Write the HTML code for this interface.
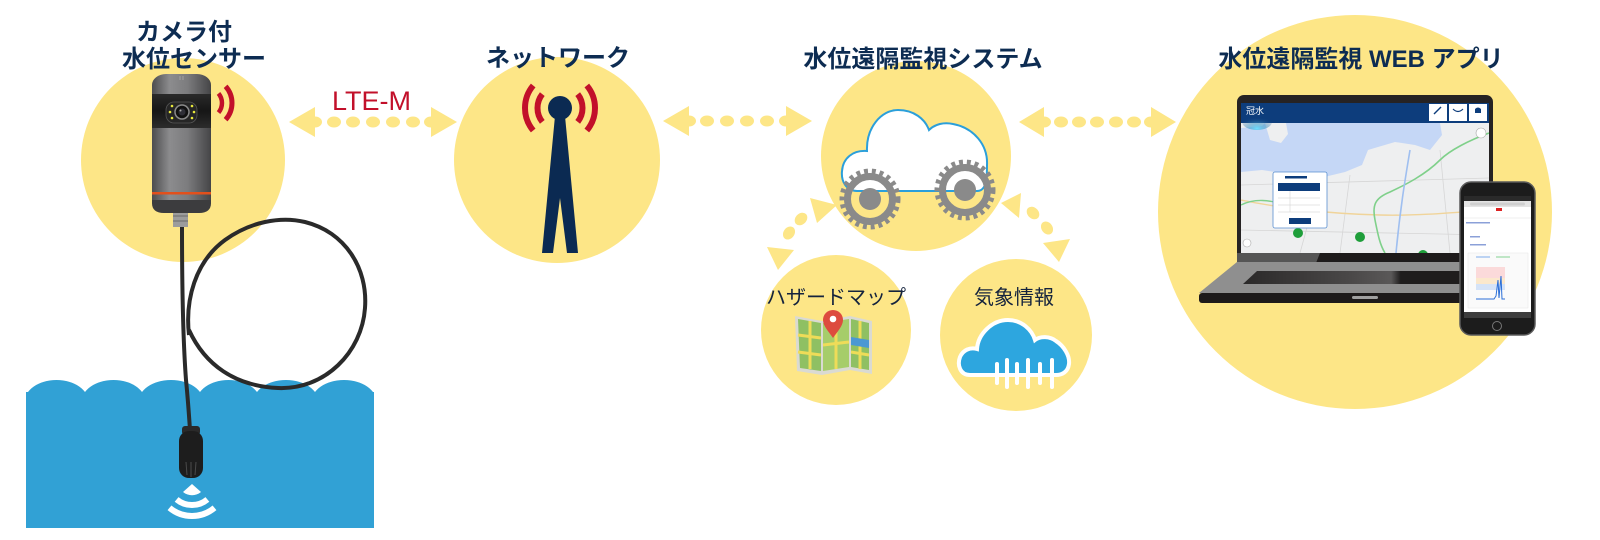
<!DOCTYPE html>
<html><head><meta charset="utf-8">
<style>
html,body{margin:0;padding:0;background:#fff;width:1600px;height:540px;overflow:hidden;}
svg{display:block;}
.t{font-family:"Liberation Sans","Noto Sans CJK JP",sans-serif;}
</style></head><body>
<svg width="1600" height="540" viewBox="0 0 1600 540" xmlns="http://www.w3.org/2000/svg">
<defs>
 <linearGradient id="body" x1="0" x2="1" y1="0" y2="0">
  <stop offset="0" stop-color="#4c4c4e"/><stop offset="0.3" stop-color="#8c8c8e"/><stop offset="0.6" stop-color="#7c7c7e"/><stop offset="1" stop-color="#454547"/>
 </linearGradient>
 <linearGradient id="band" x1="0" x2="0" y1="0" y2="1">
  <stop offset="0" stop-color="#2a2a2a"/><stop offset="0.5" stop-color="#161616"/><stop offset="1" stop-color="#2c2c2c"/>
 </linearGradient>
 <linearGradient id="kb" x1="0" x2="1" y1="0" y2="0">
  <stop offset="0" stop-color="#2b2929"/><stop offset="0.45" stop-color="#4a4848"/><stop offset="0.62" stop-color="#5a5858"/><stop offset="0.66" stop-color="#1f1d1d"/><stop offset="1" stop-color="#1f1d1d"/>
 </linearGradient>
 <radialGradient id="logo" cx="0.5" cy="0.9" r="0.7">
  <stop offset="0" stop-color="#6fe0ff"/><stop offset="1" stop-color="#0d3d7c" stop-opacity="0"/>
 </radialGradient>
 <clipPath id="scr"><rect x="1241" y="103" width="248" height="150"/></clipPath>
</defs>

<!-- yellow circles -->
<g fill="#fde687">
 <circle cx="183" cy="160" r="102"/>
 <circle cx="557" cy="160" r="103"/>
 <circle cx="916" cy="156" r="95"/>
 <circle cx="836" cy="330" r="75"/>
 <circle cx="1016" cy="335" r="76"/>
 <circle cx="1355" cy="212" r="197"/>
</g>

<!-- straight dotted arrows -->
<g fill="#fde687">
 <polygon points="289,122 315,107 315,137"/>
 <polygon points="457,122 431,107 431,137"/>
 <ellipse cx="315" cy="122" rx="7" ry="5.5"/><ellipse cx="334" cy="122" rx="7" ry="5.5"/><ellipse cx="353" cy="122" rx="7" ry="5.5"/><ellipse cx="373" cy="122" rx="7" ry="5.5"/><ellipse cx="393" cy="122" rx="7" ry="5.5"/><ellipse cx="413" cy="122" rx="7" ry="5.5"/><ellipse cx="431" cy="122" rx="7" ry="5.5"/>

 <polygon points="663,121 689,106 689,136"/>
 <polygon points="812,121 786,106 786,136"/>
 <ellipse cx="689" cy="121" rx="7" ry="5.5"/><ellipse cx="707" cy="121" rx="7" ry="5.5"/><ellipse cx="727" cy="121" rx="7" ry="5.5"/><ellipse cx="747" cy="121" rx="7" ry="5.5"/><ellipse cx="767" cy="121" rx="7" ry="5.5"/><ellipse cx="786" cy="121" rx="7" ry="5.5"/>

 <polygon points="1019,122 1044,107 1044,137"/>
 <polygon points="1176,122 1151,107 1151,137"/>
 <ellipse cx="1044" cy="122" rx="7" ry="5.5"/><ellipse cx="1061" cy="122" rx="7" ry="5.5"/><ellipse cx="1079" cy="122" rx="7" ry="5.5"/><ellipse cx="1097" cy="122" rx="7" ry="5.5"/><ellipse cx="1116" cy="122" rx="7" ry="5.5"/><ellipse cx="1134" cy="122" rx="7" ry="5.5"/><ellipse cx="1151" cy="122" rx="7" ry="5.5"/>

 <!-- curved arrows -->
 <polygon points="810,198 837,205 817,223"/>
 <polygon points="767,247 794,250 778,270"/>
 <ellipse cx="801" cy="219" rx="7" ry="5.5" transform="rotate(-45 801 219)"/>
 <ellipse cx="789" cy="233" rx="7" ry="5.5" transform="rotate(-55 789 233)"/>
 <polygon points="1001,203 1021,193 1019,218"/>
 <polygon points="1043,243 1070,239 1059,262"/>
 <ellipse cx="1033" cy="213" rx="7" ry="5.5" transform="rotate(45 1033 213)"/>
 <ellipse cx="1047" cy="228" rx="7" ry="5.5" transform="rotate(55 1047 228)"/>
</g>

<!-- titles -->
<g class="t" fill="#0d2c52" font-weight="bold" font-size="24">
 <text x="136" y="40">カメラ付</text>
 <text x="122" y="67">水位センサー</text>
 <text x="558" y="66" text-anchor="middle">ネットワーク</text>
 <text x="923" y="67" text-anchor="middle">水位遠隔監視システム</text>
 <text x="1361" y="67" text-anchor="middle">水位遠隔監視 WEB アプリ</text>
</g>
<text class="t" x="332" y="110" fill="#c2102a" font-size="27">LTE-M</text>
<g class="t" fill="#14233d" font-size="20">
 <text x="836" y="304" text-anchor="middle">ハザードマップ</text>
 <text x="1014" y="304" text-anchor="middle">気象情報</text>
</g>

<!-- water -->
<path d="M26,528 L26,392 L28,392 C40,376 73,376 85,392 C97,376 130,376 142,392 C154,376 188,376 200,392 C212,376 245,376 257,392 C269,376 303,376 315,392 C327,376 361,376 373,392 L374,392 L374,528 Z" fill="#31a1d5"/>
<!-- white signal under sensor -->
<path d="M192,484 L201,492 A14 14 0 0 1 183,492 Z" fill="#fff"/>
<path d="M176.6,499.4 A24 24 0 0 0 207.4,499.4" fill="none" stroke="#fff" stroke-width="6"/>
<path d="M169.5,507.8 A35 35 0 0 0 214.5,507.8" fill="none" stroke="#fff" stroke-width="6"/>

<!-- cable -->
<path d="M182,227 C182,290 183,340 186,380 C188,400 189,415 190,430" fill="none" stroke="#2a2a2a" stroke-width="4"/>
<path d="M189,335 C185,300 195,262 225,240 C250,222 280,216 305,222 C345,232 368,268 365,308 C362,352 325,390 278,388 C235,386 205,365 189,330" fill="none" stroke="#2a2a2a" stroke-width="4"/>

<!-- underwater sensor -->
<rect x="182" y="426" width="18" height="9" rx="3" fill="#2a2a2a"/>
<rect x="179" y="431" width="24" height="47" rx="10" fill="#1d1d1d"/>
<g stroke="#4a4a4a" stroke-width="1">
 <line x1="186" y1="462" x2="187" y2="475"/><line x1="191" y1="462" x2="191" y2="477"/><line x1="196" y1="462" x2="195" y2="475"/>
</g>

<!-- camera sensor -->
<rect x="173" y="210" width="15" height="17" fill="#9c9c9c"/>
<g stroke="#6a6a6a" stroke-width="1"><line x1="173" y1="216" x2="188" y2="216"/><line x1="173" y1="221" x2="188" y2="221"/></g>
<rect x="152" y="74" width="59" height="139" rx="14" ry="11" fill="url(#body)"/>
<path d="M152,200 L211,200 L211,203 Q211,213 199,213 L164,213 Q152,213 152,203 Z" fill="#3c3c3e"/>
<rect x="152" y="94" width="59" height="34" fill="url(#band)"/>
<rect x="166" y="102" width="31" height="21" rx="8" fill="#262626" stroke="#555" stroke-width="0.8"/>
<circle cx="182" cy="112" r="7" fill="#111" stroke="#8a8a8a" stroke-width="1.5"/>
<circle cx="182" cy="112" r="3.5" fill="#2e2e36"/>
<circle cx="180.5" cy="110.5" r="1" fill="#aaa"/>
<g fill="#e8e83c">
 <circle cx="172" cy="106" r="1.3"/><circle cx="170" cy="112" r="1.3"/><circle cx="172" cy="118" r="1.3"/>
 <circle cx="192" cy="106" r="1.3"/><circle cx="194" cy="112" r="1.3"/><circle cx="192" cy="118" r="1.3"/>
</g>
<rect x="152" y="192" width="59" height="2.5" fill="#e2501c"/>
<line x1="180" y1="76" x2="180" y2="80" stroke="#aaa" stroke-width="0.8"/><line x1="183" y1="76" x2="183" y2="80" stroke="#aaa" stroke-width="0.8"/>
<!-- red signal near camera -->
<path d="M218.5,93.4 A15 15 0 0 1 218.5,112.6" fill="none" stroke="#c2102a" stroke-width="4.5"/>
<path d="M225.6,86.3 A25 25 0 0 1 225.6,119.7" fill="none" stroke="#c2102a" stroke-width="5"/>

<!-- network tower -->
<g fill="none" stroke="#c2102a" stroke-width="6">
 <path d="M542.3,94.1 A22.5 22.5 0 0 0 542.3,121.9"/>
 <path d="M577.7,94.1 A22.5 22.5 0 0 1 577.7,121.9"/>
 <path d="M533.2,85.5 A35 35 0 0 0 533.2,130.5"/>
 <path d="M586.8,85.5 A35 35 0 0 1 586.8,130.5"/>
</g>
<circle cx="560" cy="108" r="12" fill="#0b2a52"/>
<polygon points="555,116 565,116 578,253 567,253 560,198 553,253 542,253" fill="#0b2a52"/>

<!-- system cloud -->
<path d="M857,191 C846,191 841,181 842,171 C843,158 853,150 867,151 C866,128 881,110 898,110 C914,110 925,119 929,130 C935,124 944,122 953,124 C974,128 988,145 987,165 C987,180 986,191 977,191 Z" fill="#fff" stroke="#2b9fda" stroke-width="2"/>
<!-- gears -->
<g fill="none" stroke="#8a8a8a">
 <circle cx="870" cy="199" r="28" stroke-width="5" stroke-dasharray="3.9 3.96"/>
 <circle cx="870" cy="199" r="22.5" stroke-width="7"/>
 <circle cx="965" cy="190" r="28" stroke-width="5" stroke-dasharray="3.9 3.96"/>
 <circle cx="965" cy="190" r="22.5" stroke-width="7"/>
</g>
<circle cx="870" cy="199" r="11" fill="#8a8a8a"/>
<circle cx="965" cy="190" r="11" fill="#8a8a8a"/>

<!-- hazard map icon -->
<g>
 <polygon points="795,316 822,321 850,316 872,321 872,374 850,370 822,375 797,371" fill="#dadad2"/>
 <polygon points="798,319 821,323 821,371 800,368" fill="#8fc063"/>
 <polygon points="823,323 849,319 849,367 823,371" fill="#a6cd6a"/>
 <polygon points="851,319 869,323 869,370 851,367" fill="#8fc063"/>
 <g stroke="#eedc58" stroke-width="3">
  <line x1="798" y1="335" x2="821" y2="338"/><line x1="798" y1="352" x2="821" y2="355"/>
  <line x1="810" y1="321" x2="810" y2="369"/><line x1="823" y1="345" x2="849" y2="342"/>
  <line x1="836" y1="322" x2="836" y2="369"/><line x1="851" y1="352" x2="869" y2="355"/>
  <line x1="860" y1="321" x2="860" y2="369"/>
 </g>
 <polygon points="851,337 869,340 869,348 851,345" fill="#4a98d4"/>
 <path d="M833,338 C829,332 823,326 823,320 A10 10 0 0 1 843,320 C843,326 837,332 833,338 Z" fill="#dd4b3e"/>
 <circle cx="833" cy="319" r="3.3" fill="#fff"/>
</g>

<!-- weather cloud icon -->
<path d="M970,375 C960,375 957,365 960,357 C963,350 970,347 977,349 C978,334 992,320 1008,320 C1022,320 1032,330 1035,340 C1040,336 1050,336 1056,341 C1064,346 1070,356 1069,364 C1068,372 1062,375 1056,375 Z" fill="#2da6df" stroke="#fff" stroke-width="4"/>
<g stroke="#fff" stroke-width="4" stroke-linecap="round">
 <line x1="997" y1="364" x2="997" y2="383"/>
 <line x1="1007" y1="360" x2="1007" y2="387"/>
 <line x1="1017" y1="364" x2="1017" y2="383"/>
 <line x1="1028" y1="360" x2="1028" y2="387"/>
 <line x1="1040" y1="364" x2="1040" y2="383"/>
 <line x1="1052" y1="360" x2="1052" y2="387"/>
</g>

<!-- laptop -->
<rect x="1237" y="95" width="256" height="168" rx="7" fill="#262323"/>
<rect x="1241" y="103" width="248" height="150" fill="#eeeff0"/>
<g clip-path="url(#scr)">
 <path d="M1241,128 L1262,126 L1265,123 L1440,123 L1442,135 L1430,150 L1415,145 L1395,142 L1378,147 L1368,150 L1362,165 L1345,172 L1320,178 L1300,180 L1285,178 L1275,172 L1262,170 L1241,172 Z" fill="#c5d7f6"/>
 <polygon points="1265,123 1286,123 1288,134 1281,143 1270,140" fill="#eeeff0"/>
 <g stroke="#d6d6d6" stroke-width="0.8" fill="none">
  <path d="M1241,185 L1489,178"/><path d="M1300,253 L1320,180"/><path d="M1450,253 L1440,150"/><path d="M1241,230 L1489,235"/><path d="M1340,253 L1350,175"/>
 </g>
 <path d="M1241,200 C1280,208 1330,214 1380,215 C1420,216 1460,212 1489,210" fill="none" stroke="#f0d49a" stroke-width="1.4"/>
 <path d="M1489,133 C1470,140 1450,150 1440,160 C1425,175 1405,185 1390,192 C1375,198 1372,205 1375,220 C1378,235 1380,245 1385,253" fill="none" stroke="#7fd08a" stroke-width="1.6"/>
 <path d="M1241,205 C1255,198 1270,200 1285,205" fill="none" stroke="#7fd08a" stroke-width="1.4"/>
 <path d="M1410,150 C1405,180 1400,210 1396,253" fill="none" stroke="#9fbff0" stroke-width="1.6"/>
 <circle cx="1298" cy="233" r="5" fill="#1e9e3a"/>
 <circle cx="1360" cy="237" r="5" fill="#1e9e3a"/>
 <circle cx="1423" cy="255" r="5" fill="#1e9e3a"/>
 <circle cx="1247" cy="243" r="4" fill="#fff" stroke="#aaa" stroke-width="0.6"/>
 <circle cx="1481" cy="133" r="5" fill="#fff" stroke="#aaa" stroke-width="0.6"/>
</g>
<!-- header -->
<rect x="1241" y="103" width="248" height="20" fill="#0d3d7c"/>
<ellipse cx="1257" cy="122" rx="15" ry="8" fill="url(#logo)"/>
<text class="t" x="1246" y="114" fill="#fff" font-size="9">冠水</text>
<rect x="1429" y="104" width="18" height="17" fill="#fff"/>
<rect x="1449" y="104" width="18" height="17" fill="#fff"/>
<rect x="1469" y="104" width="18" height="17" fill="#fff"/>
<path d="M1434,114 L1438,110 L1441,107" stroke="#0d3d7c" stroke-width="1.4" fill="none"/>
<path d="M1453,109 Q1458,114 1463,109" stroke="#0d3d7c" stroke-width="1.2" fill="none"/>
<path d="M1475,113 L1475,109 Q1478,106 1481,109 L1481,113 Z" fill="#0d3d7c"/>
<!-- popup -->
<rect x="1273" y="172" width="54" height="56" rx="2" fill="#fff" stroke="#5a8fd0" stroke-width="0.8"/>
<rect x="1278" y="183" width="42" height="8" fill="#0d3d7c"/>
<g stroke="#ccc" stroke-width="0.5"><line x1="1278" y1="198" x2="1320" y2="198"/><line x1="1278" y1="205" x2="1320" y2="205"/><line x1="1278" y1="212" x2="1320" y2="212"/><line x1="1290" y1="191" x2="1290" y2="212"/></g>
<rect x="1289" y="218" width="22" height="6" fill="#0d3d7c"/>
<rect x="1285" y="176" width="22" height="2.5" fill="#0d3d7c"/>
<!-- lid bottom -->
<rect x="1237" y="253" width="256" height="10" fill="#1e1b1b"/>
<polygon points="1237,253 1320,253 1316,263 1237,263" fill="#555"/>
<!-- base -->
<polygon points="1237,262 1493,262 1531,293 1199,293" fill="#8f8f8f"/>
<polygon points="1257,271 1472,271 1482,284 1243,284" fill="url(#kb)"/>
<rect x="1199" y="293" width="332" height="10" rx="3" fill="#1d1a1a"/>
<rect x="1352" y="296" width="26" height="3" rx="1.5" fill="#a0a0a0"/>

<!-- phone -->
<rect x="1460" y="182" width="75" height="153" rx="11" fill="#1c1c1c" stroke="#5a5a5a" stroke-width="1.5"/>
<rect x="1464" y="196" width="67" height="122" fill="#fff"/>
<rect x="1464" y="196" width="67" height="5" fill="#2a2a2a"/>
<rect x="1464" y="201" width="67" height="6" fill="#e4e4e4"/>
<rect x="1470" y="202.5" width="55" height="3" rx="1.5" fill="#cfcfcf"/>
<rect x="1496" y="208" width="6" height="3" fill="#d22"/>
<line x1="1464" y1="218" x2="1531" y2="218" stroke="#e0e0e0" stroke-width="0.6"/>
<rect x="1466" y="222" width="24" height="1.5" fill="#8ba0d8"/>
<rect x="1470" y="236" width="10" height="1.5" fill="#8ba0d8"/>
<rect x="1470" y="244" width="16" height="1.5" fill="#8ba0d8"/>
<rect x="1468" y="253" width="60" height="55" fill="#fafafa" stroke="#e6e6e6" stroke-width="0.5"/>
<rect x="1476" y="256" width="14" height="2" fill="#bcd3f3"/><rect x="1496" y="256" width="14" height="2" fill="#bfe6c6"/>
<rect x="1476" y="267" width="29" height="11" fill="#fbdada"/>
<rect x="1476" y="278" width="29" height="6" fill="#fbe8cc"/>
<rect x="1476" y="284" width="29" height="6" fill="#d5e3f7"/>
<path d="M1476,299 L1494,299 L1496,296 L1498,280 L1499,298 L1501,276 L1502,299 L1505,299" fill="none" stroke="#2b6fd8" stroke-width="1"/>
<rect x="1464" y="312" width="67" height="6" fill="#3d3d3d"/>
<circle cx="1497" cy="326" r="4.5" fill="none" stroke="#777" stroke-width="1"/>
</svg>
</body></html>
